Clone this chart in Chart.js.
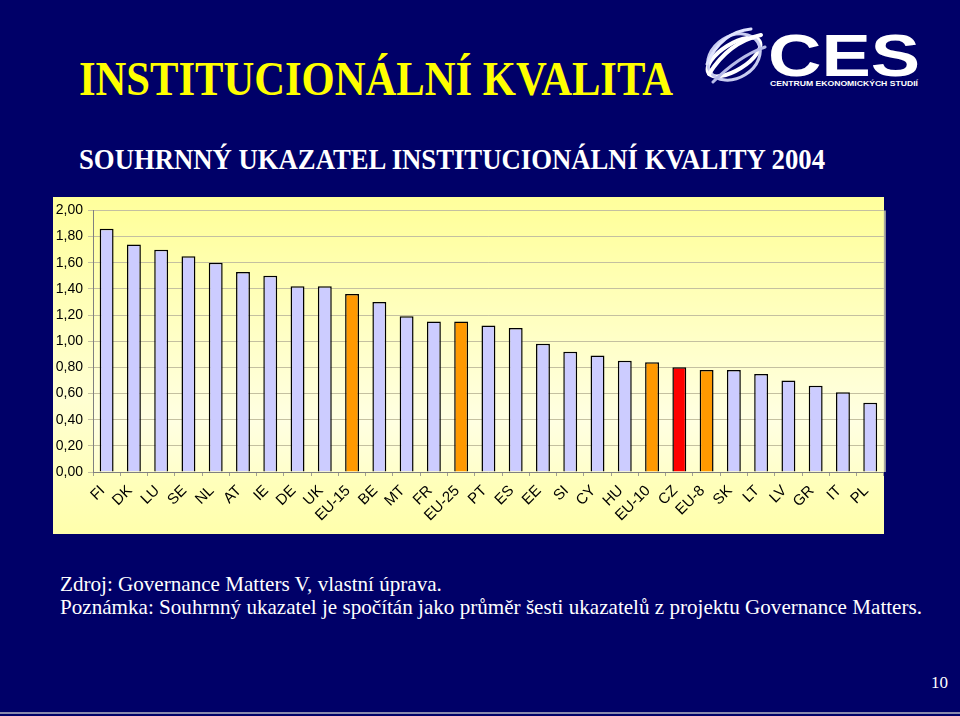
<!DOCTYPE html>
<html lang="cs">
<head>
    <meta charset="UTF-8">
    <title>Institucionální kvalita</title>
    <script src="https://cdn.jsdelivr.net/npm/chart.js"></script>
    <style>
        body { margin: 0; background: #000068; }
        #slide { position: relative; width: 960px; height: 716px; background: #000068; overflow: hidden; }
        .txt { position: absolute; white-space: nowrap; line-height: 1; transform-origin: 0 0; font-family: "Liberation Serif", "Times New Roman", serif; }
        #title { left: 79px; top: 55px; font-size: 48px; font-weight: bold; color: #ffff00; }
        #subtitle { left: 79px; top: 144px; font-size: 30px; font-weight: bold; color: #ffffff; }
        #src { left: 60px; top: 574px; font-size: 21px; color: #ffffff; }
        #note { left: 60px; top: 597px; font-size: 21px; color: #ffffff; }
        #page { left: 931px; top: 674px; font-size: 17px; color: #ffffff; }
        #panel { position: absolute; left: 53px; top: 197px; width: 831px; height: 337px;
                 background: linear-gradient(180deg, #ffff9c 0%, #ffffd2 60%, #ffffac 100%); }
        #chartBox { position: absolute; left: 53px; top: 197px; }
        #bottomLine { position: absolute; left: 0; top: 712px; width: 960px; height: 2px; background: #8a8aae; }
        #logo { position: absolute; left: 698px; top: 20px; }
    </style>
</head>
<body>
<div id="slide">
    <div class="txt" id="title">INSTITUCIONÁLNÍ KVALITA</div>
    <div class="txt" id="subtitle">SOUHRNNÝ UKAZATEL INSTITUCIONÁLNÍ KVALITY 2004</div>

    <svg id="logo" width="230" height="75" viewBox="0 0 230 75">
        <g fill="none" stroke-linecap="round">
            <ellipse cx="36" cy="37" rx="30" ry="13" transform="rotate(-32 36 37)" stroke="#ffffff" stroke-width="4"/>
            <ellipse cx="36" cy="37" rx="28" ry="21" transform="rotate(-32 36 37)" stroke="#c8ccf0" stroke-width="3"/>
            <path d="M11 54 Q 31 22 63 15" stroke="#ffffff" stroke-width="4"/>
            <path d="M15 62 Q 41 36 67 27" stroke="#b8bce8" stroke-width="3"/>
            <path d="M9 44 Q 23 12 53 9" stroke="#e0e4ff" stroke-width="3"/>
        </g>
        <text x="70" y="56" font-family="Liberation Sans, Arial, sans-serif" font-weight="bold" font-size="60"
              fill="#ffffff" textLength="152" lengthAdjust="spacingAndGlyphs">CES</text>
        <text x="72" y="66" font-family="Liberation Sans, Arial, sans-serif" font-weight="bold" font-size="8"
              fill="#ffffff" textLength="148" lengthAdjust="spacingAndGlyphs">CENTRUM EKONOMICKÝCH STUDIÍ</text>
    </svg>

    <div id="panel"></div>
    <div id="chartBox"><canvas id="kvalitaChart" width="836" height="337"></canvas></div>

    <div class="txt" id="src">Zdroj: Governance Matters V, vlastní úprava.</div>
    <div class="txt" id="note">Poznámka: Souhrnný ukazatel je spočítán jako průměr šesti ukazatelů z projektu Governance Matters.</div>
    <div class="txt" id="page">10</div>
    <div id="bottomLine"></div>
</div>

<script>
    // Data
    const countries = ["FI", "DK", "LU", "SE", "NL", "AT", "IE", "DE", "UK", "EU-15",
                       "BE", "MT", "FR", "EU-25", "PT", "ES", "EE", "SI", "CY", "HU",
                       "EU-10", "CZ", "EU-8", "SK", "LT", "LV", "GR", "IT", "PL"];
    const scores = [1.86, 1.74, 1.70, 1.65, 1.60, 1.53, 1.50, 1.42, 1.42, 1.36,
                    1.30, 1.19, 1.15, 1.15, 1.12, 1.10, 0.98, 0.92, 0.89, 0.85,
                    0.84, 0.80, 0.78, 0.78, 0.75, 0.70, 0.66, 0.61, 0.53];
    const aggregates = ["EU-15", "EU-25", "EU-10", "EU-8"];
    const highlighted = ["CZ"];
    const yTicks = [0, 0.2, 0.4, 0.6, 0.8, 1.0, 1.2, 1.4, 1.6, 1.8, 2.0];

    const barColors = countries.map(c => {
        if (highlighted.includes(c)) return "#ff0000";
        if (aggregates.includes(c)) return "#ff9900";
        return "#ccccff";
    });

    // squeeze text to the width it has on the slide
    function fitWidth(id, target) {
        const el = document.getElementById(id);
        const w = el.getBoundingClientRect().width;
        const s = target / w;
        el.style.transform = `scaleX(${s})`;
        return s;
    }
    fitWidth("title", 594);
    fitWidth("subtitle", 746);
    const noteScale = fitWidth("note", 862);
    document.getElementById("src").style.transform = `scaleX(${noteScale})`;

    // gradient in the plot area and a right border line
    const plotBackground = {
        id: "plotBackground",
        beforeDraw(chart) {
            const { ctx, chartArea: a } = chart;
            const g = ctx.createLinearGradient(0, a.top, 0, a.bottom);
            g.addColorStop(0, "#ffff9c");
            g.addColorStop(0.8, "#ffffe2");
            g.addColorStop(1, "#ffffcc");
            ctx.save();
            ctx.fillStyle = g;
            ctx.fillRect(a.left, a.top, a.right - a.left, a.bottom - a.top);
            ctx.restore();
        },
        afterDraw(chart) {
            const { ctx, chartArea: a } = chart;
            ctx.save();
            ctx.strokeStyle = "#a8a8a0";
            ctx.lineWidth = 2;
            ctx.beginPath();
            ctx.moveTo(a.right + 1, a.top);
            ctx.lineTo(a.right + 1, a.bottom);
            ctx.stroke();
            ctx.restore();
        }
    };

    const ctx = document.getElementById("kvalitaChart").getContext("2d");
    new Chart(ctx, {
        type: "bar",
        data: {
            labels: countries,
            datasets: [{
                data: scores,
                backgroundColor: barColors,
                borderColor: "#000000",
                borderWidth: 1.5,
                barPercentage: 0.51,
                categoryPercentage: 1.0
            }]
        },
        plugins: [plotBackground],
        options: {
            responsive: false,
            animation: false,
            layout: { padding: { top: 12, right: 3, left: 0, bottom: 0 } },
            plugins: {
                legend: { display: false },
                tooltip: { enabled: false }
            },
            scales: {
                x: {
                    offset: true,
                    afterFit: scale => { scale.height = 62; },
                    grid: {
                        offset: true,
                        drawOnChartArea: false,
                        drawTicks: true,
                        tickLength: 4,
                        color: "#a0a090"
                    },
                    border: { color: "#808080", width: 1 },
                    ticks: {
                        minRotation: 45,
                        maxRotation: 45,
                        autoSkip: false,
                        padding: 6,
                        labelOffset: -4,
                        color: "#000000",
                        font: { family: "Liberation Sans", size: 15 }
                    }
                },
                y: {
                    min: 0,
                    max: 2,
                    afterFit: scale => { scale.width = 40; },
                    afterBuildTicks: scale => { scale.ticks = yTicks.map(v => ({ value: v })); },
                    grid: {
                        color: "#c4c0a0",
                        tickLength: 5,
                        lineWidth: 1
                    },
                    border: { color: "#808080", width: 1 },
                    ticks: {
                        padding: 5,
                        color: "#000000",
                        font: { family: "Liberation Sans", size: 14 },
                        callback: v => v.toFixed(2).replace(".", ",")
                    }
                }
            }
        }
    });
</script>
</body>
</html>
